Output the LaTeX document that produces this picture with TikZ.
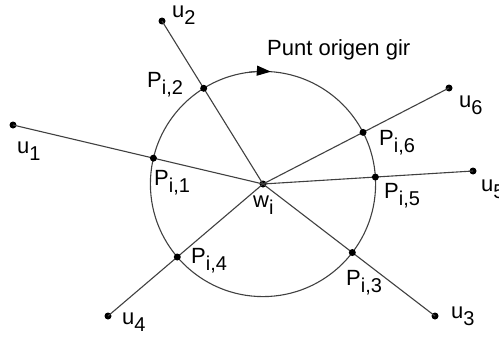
\documentclass[tikz,border=0pt]{standalone}
\usepackage{fontspec}
\setmainfont{Liberation Sans}
\usetikzlibrary{calc,arrows.meta}
\newcommand{\lbl}[2]{#1\raisebox{-7pt}{\fontsize{20}{20}\selectfont #2}}
\begin{document}
\begin{tikzpicture}[x=1pt,y=-1pt,
  dot/.style={circle,fill=black,inner sep=0pt,minimum size=7pt},
  ray/.style={draw=black!75,line width=1.1pt},
  lab/.style={font=\fontsize{22}{22}\selectfont,inner sep=0pt,anchor=base west}]
\useasboundingbox (0,0) rectangle (499,340);
\node[dot] (w) at (263,184) {};
\foreach \i/\x/\y in {1/13/125,2/162/21,3/435/316,4/108/316,5/473/171,6/449/88} {
  \node[dot] (u\i) at (\x,\y) {};
  \draw[ray] (u\i.center) -- (w.center);
}
\draw[ray] (w.center) circle[radius=112.6pt];
\foreach \i in {1,...,6} {
  \node[dot] (p\i) at ($(w.center)!112.6pt!(u\i.center)$) {};
}
\draw[ray,-{Triangle[length=14pt,width=10pt,color=black,fill=black]}] ($(w.center)+(97:112.6pt)$) coordinate (arrstart) arc[start angle=97,end angle=86,radius=112.6pt];
\node[lab] (title) at (267,55) {Punt origen gir};
\node[lab] (lu1) at (17,153) {\lbl{u}{1}};
\node[lab] (lu2) at (172,17) {\lbl{u}{2}};
\node[lab] (lu3) at (451,318) {\lbl{u}{3}};
\node[lab] (lu4) at (122,324) {\lbl{u}{4}};
\node[lab] (lu5) at (481,191) {\lbl{u}{5}};
\node[lab] (lu6) at (459,107) {\lbl{u}{6}};
\node[lab] (lw) at (253,207) {\lbl{w}{i}};
\node[lab] (lp1) at (154,185) {\lbl{P}{i,1}};
\node[lab] (lp2) at (147,87) {\lbl{P}{i,2}};
\node[lab] (lp3) at (346,285) {\lbl{P}{i,3}};
\node[lab] (lp4) at (191,263) {\lbl{P}{i,4}};
\node[lab] (lp5) at (384,198) {\lbl{P}{i,5}};
\node[lab] (lp6) at (379,145) {\lbl{P}{i,6}};
\end{tikzpicture}
\end{document}
